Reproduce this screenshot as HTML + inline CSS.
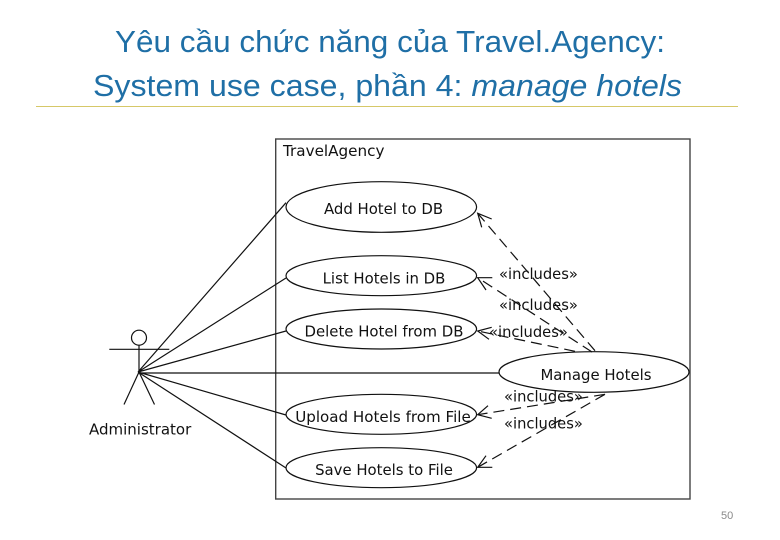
<!DOCTYPE html>
<html><head><meta charset="utf-8"><style>
html,body{margin:0;padding:0;background:#fff}
svg{display:block}
.d{font-family:"DejaVu Sans",sans-serif;font-size:14.9px;fill:#111}
.i{font-family:"DejaVu Sans",sans-serif;font-size:14.7px;fill:#111}
.t{font-family:"Liberation Sans",sans-serif;font-size:31px;fill:#1f6fa6}
</style></head><body>
<svg width="780" height="540" viewBox="0 0 780 540" xmlns="http://www.w3.org/2000/svg">
<text class="t" x="115" y="52" textLength="550" lengthAdjust="spacingAndGlyphs">Yêu cầu chức năng của Travel.Agency:</text>
<text class="t" x="93" y="96" textLength="589" lengthAdjust="spacingAndGlyphs">System use case, phần 4: <tspan font-style="italic">manage hotels</tspan></text>
<line x1="36" y1="106.5" x2="738" y2="106.5" stroke="#d6c868" stroke-width="1"/>
<rect x="275.7" y="139" width="414.3" height="360" fill="none" stroke="#444" stroke-width="1.4"/>
<text class="d" x="283" y="156" style="font-size:15.2px">TravelAgency</text>
<g fill="none" stroke="#111" stroke-width="1.2">
<ellipse cx="381.3" cy="207" rx="95.3" ry="25.3"/>
<ellipse cx="381.3" cy="275.7" rx="95.3" ry="20"/>
<ellipse cx="381.3" cy="329" rx="95.3" ry="20"/>
<ellipse cx="594" cy="372" rx="95" ry="20.3"/>
<ellipse cx="381.3" cy="414.3" rx="95.3" ry="20"/>
<ellipse cx="381.3" cy="467.7" rx="95.3" ry="20"/>
<circle cx="139" cy="337.7" r="7.5"/>
<path d="M109.3 349.3H169.3M139 345.2V372L124 404.5M139 372L154.5 404.5"/>
<path d="M138 372L286 202.7M138 372L286 278M138 372L286 331M138 373H499M138 372L286 415M138 372L286 468"/>
<path d="M491.7 219L477.7 213.3L481.7 227.3M492.3 277.7H477.7L486 290M491.7 327.3L477.7 331L489 339.3M488 405.7L477.7 414.7L491.7 418.3M486 455.7L477.7 467.3H492.3"/>
<g stroke-dasharray="11 6">
<path d="M595 350.7L477.7 213.3"/>
<path d="M592 352L477.7 277.7"/>
<path d="M575 351.3L477.7 331"/>
<path d="M605 394.3L477.7 414.7"/>
<path d="M605 394.3L477.7 467.3"/>
</g>
</g>
<g text-anchor="middle">
<text class="d" x="383.5" y="214">Add Hotel to DB</text>
<text class="d" x="384" y="283.5">List Hotels in DB</text>
<text class="d" x="384" y="336.5">Delete Hotel from DB</text>
<text class="d" x="596" y="380">Manage Hotels</text>
<text class="d" x="383" y="422" style="font-size:15.1px">Upload Hotels from File</text>
<text class="d" x="384" y="475">Save Hotels to File</text>
</g>
<text class="i" x="499" y="279">«includes»</text>
<text class="i" x="499" y="310">«includes»</text>
<text class="i" x="489" y="337">«includes»</text>
<text class="i" x="504" y="401.5">«includes»</text>
<text class="i" x="504" y="428.5">«includes»</text>
<text class="d" x="89" y="434.5" style="font-size:15px">Administrator</text>
<text x="721" y="519" font-family="Liberation Sans, sans-serif" font-size="11" fill="#8a8a8a">50</text>
</svg>
</body></html>
